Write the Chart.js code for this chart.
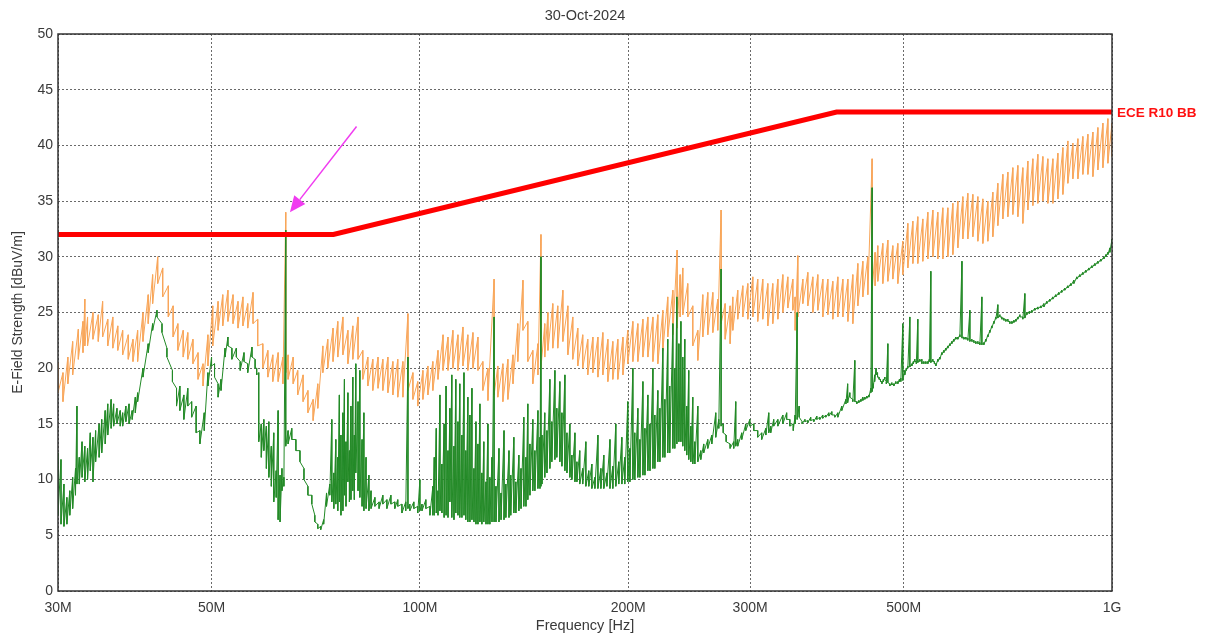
<!DOCTYPE html>
<html>
<head>
<meta charset="utf-8">
<script src="https://cdn.jsdelivr.net/npm/chart.js@4.4.1/dist/chart.umd.min.js"></script>
<style>
  html, body { margin: 0; padding: 0; background: #fff; }
  #wrap { width: 1210px; height: 637px; }
</style>
</head>
<body>
<div id="wrap"><canvas id="emc" width="1210" height="637"></canvas></div>
<script>
// Scan date shown above the plot
const chartTitle = '30-Oct-2024';

// Limit line (MHz, dBuV/m)
const limitName = 'ECE R10 BB';
const limitMHz = [30, 75, 400, 1000];
const limitLevel = [32, 32, 43, 43];

// X axis ticks (MHz) and their labels
const xTickMHz = [30, 50, 100, 200, 300, 500, 1000];
const xTickLabels = ['30M', '50M', '100M', '200M', '300M', '500M', '1G'];

// Arrow pointing at the 64 MHz spike: [MHz, dBuV/m]
const arrowTail = [81, 41.7];
const arrowHead = [64.9, 34.0];

// Peak trace (orange): [MHz, band top, band bottom]
const peakTrace = [
  [30.0,20.5,17.8],[30.5,19.6,17.0],[31.0,21.0,18.6],[31.5,22.4,19.4],[32.1,23.5,20.8],[32.6,24.2,21.4],[32.8,26.2,22.0],
  [33.1,24.6,22.0],[33.7,25.0,22.6],[34.3,24.8,22.4],[34.8,26.0,22.8],[35.4,24.4,22.0],[36.0,24.6,21.8],[36.6,23.8,21.6],
  [37.2,23.4,21.2],[37.9,23.0,20.8],[38.5,22.6,20.6],[39.1,23.4,20.6],[39.8,25.0,22.4],[40.5,26.6,24.0],[41.1,28.4,25.8],
  [41.8,30.0,27.6],[42.5,29.0,26.4],[43.3,27.4,24.6],[44.0,25.6,22.8],[44.7,24.0,21.6],[45.5,23.4,21.0],[46.2,23.2,20.8],
  [47.0,22.6,20.4],[47.8,21.4,19.0],[48.6,20.4,18.4],[49.4,23.0,20.2],[50.2,25.6,22.0],[51.1,26.0,23.4],[51.9,26.6,23.8],
  [52.8,27.0,24.2],[53.7,26.6,24.0],[54.6,26.0,23.6],[55.5,26.4,23.8],[56.4,25.8,23.6],[57.4,26.8,24.0],[58.3,24.4,22.0],
  [59.3,22.2,20.0],[60.3,21.6,19.2],[61.3,21.2,18.8],[62.4,21.4,18.8],[63.4,21.0,18.6],[64.0,34.0,19.6],[64.5,21.2,19.0],
  [65.6,21.0,18.6],[66.6,19.8,17.6],[67.8,19.4,17.0],[68.9,18.0,16.0],[70.1,17.2,15.3],[71.2,18.6,16.4],[72.4,22.0,19.6],
  [73.6,22.6,20.0],[74.9,23.6,20.6],[76.1,24.2,21.0],[77.4,24.6,21.2],[78.7,23.4,20.4],[80.0,23.8,20.8],[81.4,24.6,20.8],
  [82.7,21.6,19.0],[84.1,21.0,18.4],[85.5,20.8,18.0],[87.0,21.0,18.2],[88.4,20.8,18.0],[89.9,21.0,17.8],[91.4,20.6,17.6],
  [92.9,20.8,17.4],[94.5,20.6,17.4],[96.1,24.9,18.0],[97.7,19.6,17.2],[99.3,18.8,16.6],[101.0,19.8,17.2],[102.7,20.2,17.6],
  [104.4,20.6,18.0],[106.2,21.6,19.0],[108.0,23.0,19.8],[109.8,22.8,19.8],[111.6,23.4,20.0],[113.5,23.0,19.8],[115.4,23.7,20.2],
  [117.3,23.0,19.8],[119.3,23.2,20.0],[121.3,22.8,19.8],[123.3,20.6,18.0],[125.4,20.0,17.1],[128.0,28.0,17.6],[129.6,20.2,17.4],
  [131.8,20.4,17.0],[134.0,20.8,17.2],[136.3,21.2,18.6],[138.5,24.0,20.6],[140.9,27.9,23.4],[143.2,24.2,20.6],[145.6,21.6,18.6],
  [148.1,22.2,19.4],[149.6,32.0,20.0],[151.5,24.0,21.0],[153.1,25.0,21.6],[155.6,25.8,21.8],[158.2,25.6,21.8],[160.9,27.0,22.4],
  [163.6,25.6,21.2],[166.3,24.6,20.8],[169.1,23.6,20.2],[171.9,23.0,20.0],[174.8,22.6,19.4],[177.8,22.8,19.6],[180.8,22.8,19.2],
  [183.8,23.2,19.4],[186.9,22.6,18.8],[190.0,22.4,19.0],[193.2,22.6,19.0],[196.5,22.8,19.4],[199.7,23.4,20.4],[203.1,24.2,20.6],
  [206.5,24.0,20.6],[210.0,24.4,21.0],[213.5,24.6,21.0],[217.1,24.6,20.6],[220.7,24.8,20.4],[224.4,25.2,21.6],[228.1,26.4,22.8],
  [232.0,27.0,23.0],[235.3,30.6,23.6],[237.7,28.4,24.6],[239.8,29.0,24.8],[243.8,27.6,24.6],[247.9,25.6,22.0],[252.1,23.4,20.7],
  [256.3,26.6,22.8],[260.6,26.8,23.0],[265.0,26.8,23.2],[269.4,26.2,23.4],[272.4,34.2,24.0],[276.1,25.8,22.6],[280.7,25.6,22.2],
  [283.2,26.4,23.4],[287.9,27.0,24.4],[292.8,27.4,24.6],[297.7,27.6,24.4],[302.7,28.2,24.6],[307.7,28.0,24.2],[312.9,28.0,24.4],
  [318.2,27.6,23.8],[323.5,27.6,24.0],[329.0,28.0,24.4],[334.5,28.4,25.0],[340.1,28.2,25.4],[345.8,28.0,25.2],[348.5,26.4,23.4],
  [351.6,30.1,24.6],[357.5,28.0,25.8],[363.5,28.6,25.6],[369.6,28.2,25.0],[375.8,28.4,25.2],[382.1,28.0,24.6],[388.5,28.0,24.8],
  [395.0,27.8,24.4],[401.7,28.2,24.6],[408.4,28.0,24.6],[415.3,28.0,24.2],[422.2,28.4,24.0],[429.3,29.4,25.6],[436.5,29.6,26.4],
  [443.8,30.0,26.6],[450.2,38.8,27.0],[454.7,30.4,27.4],[458.8,31.0,27.8],[466.5,31.2,27.6],[474.4,31.5,27.8],[482.3,31.0,28.0],
  [490.4,31.2,27.6],[498.6,31.4,28.4],[507.0,33.0,29.0],[515.5,33.2,29.4],[524.1,33.6,29.4],[532.9,33.4,29.6],[541.9,34.0,29.8],
  [551.0,34.2,30.0],[560.2,34.0,29.8],[569.6,34.4,29.8],[579.2,34.4,30.0],[588.9,34.8,30.2],[598.8,35.0,30.8],[608.8,35.4,31.6],
  [619.0,35.7,31.6],[629.4,35.6,31.8],[640.0,35.4,31.4],[650.7,35.2,31.2],[661.6,35.0,31.4],[672.7,35.8,31.8],[684.0,36.6,32.8],
  [695.5,37.4,33.4],[707.2,37.6,33.6],[719.0,38.0,33.8],[731.1,38.2,33.6],[743.3,38.0,33.0],[755.8,38.6,34.2],[768.5,38.8,34.6],
  [781.4,39.2,34.8],[794.5,39.0,35.0],[807.8,38.8,34.8],[821.4,38.8,34.8],[835.2,39.3,35.2],[849.2,39.8,35.6],[863.4,40.4,36.6],
  [877.9,40.2,37.0],[892.7,40.6,37.0],[907.6,40.8,37.4],[922.9,41.0,37.4],[938.4,41.2,37.2],[954.1,41.6,37.8],[970.1,42.0,38.0],
  [986.4,42.4,38.4],[1000,42.0,39.0]
];

// Average trace (green): [MHz, top, bottom]
const avgTrace = [
  [30.0,12.4,6.8],[30.3,11.8,6.0],[30.6,9.6,5.8],[30.9,8.4,6.0],[31.2,9.0,6.8],[31.5,10.2,7.4],[31.8,11.0,8.6],[31.95,16.6,9.6],
  [32.2,12.0,9.6],[32.5,13.4,10.2],[32.8,13.0,9.8],[33.1,12.8,10.0],[33.4,14.2,10.8],[33.7,13.8,9.8],[34.0,14.4,11.6],[34.4,15.0,12.0],
  [34.7,15.4,12.4],[35.1,16.2,13.2],[35.4,16.8,14.0],[35.8,17.2,14.6],[36.1,16.8,14.8],[36.5,16.4,15.0],[36.9,16.2,14.8],[37.2,16.0,14.8],
  [37.6,16.6,15.2],[38.0,16.8,15.0],[38.4,16.2,15.4],[38.8,17.4,16.0],[39.1,17.8,17.0],[39.8,20.0,19.2],[40.5,22.2,21.4],[41.1,24.0,23.4],
  [41.7,25.2,24.6],[42.4,24.0,23.2],[43.1,21.8,21.0],[43.9,19.8,18.8],[44.5,18.2,16.6],[45.0,18.4,16.2],[45.6,17.6,15.4],[46.2,18.2,16.6],
  [46.8,17.0,15.6],[47.5,16.6,14.2],[48.1,14.4,13.2],[48.8,16.0,14.4],[49.4,19.6,18.4],[50.0,21.0,20.2],[50.5,20.4,19.2],[51.1,18.6,17.4],
  [51.6,19.0,18.0],[52.3,21.8,21.0],[52.8,22.8,22.0],[53.5,21.8,20.8],[54.3,21.8,21.0],[55.0,20.6,19.8],[55.7,21.4,20.6],[56.4,20.4,19.6],
  [57.2,21.9,21.0],[57.8,20.8,20.0],[58.1,20.0,19.4],[58.5,19.6,13.4],[59.0,15.0,12.0],[59.5,15.4,12.6],[60.0,14.8,11.0],[60.5,15.2,10.2],
  [61.0,13.0,9.4],[61.5,14.2,8.0],[62.0,10.8,8.4],[62.4,16.2,6.4],[62.8,10.4,6.2],[63.2,11.0,9.0],[63.6,10.2,9.4],[64.0,32.4,13.0],
  [64.5,14.4,13.2],[65.3,14.6,13.6],[66.2,13.6,12.6],[67.1,12.6,11.6],[68.0,11.0,10.0],[68.9,9.4,8.6],[69.8,8.6,7.8],[70.5,6.8,6.2],
  [71.2,6.0,5.6],[71.9,5.8,5.5],[72.6,6.4,6.0],[73.3,8.8,7.6],[74.1,9.6,8.6],[74.6,15.4,8.0],[75.1,10.6,7.4],[75.6,13.6,7.8],
  [76.1,12.0,7.2],[76.5,17.6,8.0],[76.9,14.0,6.8],[77.4,16.0,7.2],[77.8,19.0,8.6],[78.2,13.4,7.6],[78.7,17.8,9.8],[79.1,12.6,8.0],
  [79.5,16.6,8.2],[80.0,19.2,9.0],[80.4,14.0,8.2],[80.8,20.4,10.6],[81.4,17.0,9.0],[81.9,19.8,8.4],[82.5,13.6,7.6],[83.0,16.0,7.2],
  [83.6,12.0,7.4],[84.4,10.4,7.2],[85.0,9.0,7.4],[86.1,8.4,7.6],[87.3,8.0,7.4],[88.4,8.6,7.8],[89.6,8.2,7.4],[90.8,8.6,7.8],
  [92.0,8.0,7.4],[92.9,8.2,7.6],[94.2,7.8,7.0],[95.4,8.0,7.2],[96.1,21.0,7.4],[96.7,7.8,7.2],[98.0,8.0,7.4],[99.3,7.6,7.0],
  [100.0,10.0,7.2],[100.7,7.8,7.2],[102.0,8.2,7.4],[103.4,7.6,6.8],[104.4,9.4,6.8],[104.9,12.0,6.8],[105.6,14.6,7.0],[106.2,9.0,6.8],
  [106.9,17.6,7.2],[107.6,11.4,7.0],[108.4,15.0,6.6],[109.1,18.4,6.8],[109.8,12.6,6.6],[110.5,16.4,8.0],[111.2,19.4,6.6],[112.0,13.0,6.4],
  [112.7,19.0,7.0],[113.5,15.2,6.8],[114.2,18.6,6.6],[115.0,14.0,6.6],[115.8,19.6,6.8],[116.5,12.6,6.4],[117.3,17.4,6.2],[118.1,15.8,6.2],
  [118.9,18.2,6.4],[119.7,11.0,6.2],[120.5,15.2,6.0],[121.3,13.2,6.0],[122.1,16.8,6.2],[122.9,10.6,6.0],[123.7,13.4,6.2],[124.6,9.8,6.0],
  [125.4,15.0,6.0],[126.2,10.2,6.0],[127.1,12.0,6.2],[128.0,24.6,6.2],[128.8,9.4,6.2],[130.1,12.8,6.2],[131.0,8.8,6.4],[132.3,14.4,6.4],
  [133.1,9.6,6.6],[134.5,12.6,6.6],[135.3,10.4,6.8],[136.7,13.8,7.0],[137.6,9.8,7.0],[139.0,12.2,7.2],[140.0,11.0,7.4],[141.3,15.6,7.6],
  [142.3,12.0,7.6],[143.2,16.8,8.2],[144.2,13.2,8.6],[145.6,15.4,9.0],[146.6,12.6,9.0],[148.1,16.2,9.2],[149.1,13.8,9.2],[149.6,30.0,9.4],
  [150.1,14.0,9.6],[151.5,16.0,10.2],[152.6,14.4,10.6],[154.1,19.0,11.0],[155.1,15.2,11.6],[156.7,19.8,11.8],[157.7,16.4,12.0],[159.3,18.8,11.6],
  [160.4,16.0,11.2],[162.0,19.4,10.8],[163.1,14.2,10.6],[164.7,15.0,10.2],[165.8,12.2,10.0],[167.5,14.2,9.8],[168.6,11.6,9.8],[170.2,12.6,9.6],
  [171.9,11.0,9.6],[173.7,13.4,9.4],[175.4,10.8,9.4],[177.2,11.4,9.2],[179.0,10.2,9.2],[180.8,14.0,9.2],[182.6,11.0,9.2],[184.4,12.2,9.2],
  [186.3,10.6,9.4],[188.2,13.6,9.2],[190.0,11.2,9.2],[191.9,15.0,9.4],[193.8,11.6,9.6],[195.8,13.8,9.6],[197.7,12.0,9.6],[199.7,17.0,9.8],
  [201.1,12.8,9.8],[203.1,20.0,10.0],[204.4,14.2,10.0],[206.5,16.4,10.2],[207.9,13.6,10.2],[210.0,18.8,10.4],[211.4,14.6,10.4],[213.5,17.6,10.8],
  [215.0,15.0,10.8],[217.1,20.0,11.0],[218.5,15.8,11.0],[220.7,18.0,11.6],[222.2,16.4,11.6],[224.4,21.8,12.0],[225.9,17.2,12.0],[228.1,22.6,12.4],
  [229.6,18.4,12.4],[232.0,24.0,12.8],[233.5,20.0,12.8],[235.1,26.4,13.2],[236.7,22.2,13.4],[238.3,24.2,13.4],[239.8,21.0,13.0],[241.4,22.6,12.6],
  [243.0,16.6,12.2],[244.6,19.8,11.8],[246.3,14.8,11.6],[247.9,17.4,11.4],[249.6,13.4,11.4],[252.1,16.6,11.6],[254.6,12.6,11.8],[257.1,13.2,12.4],
  [260.6,13.6,12.8],[264.1,14.0,13.2],[267.6,16.0,13.8],[270.3,15.4,14.6],[272.4,28.9,14.8],[274.3,15.0,14.2],[277.0,14.0,13.4],[280.7,13.2,12.8],
  [284.1,13.4,12.8],[286.0,17.0,13.0],[287.9,13.6,13.0],[291.8,14.2,13.6],[295.7,15.0,14.4],[299.7,15.4,14.8],[303.7,15.0,14.4],[307.7,14.4,13.8],
  [311.8,14.2,13.6],[316.1,14.6,14.0],[319.2,16.0,14.2],[321.3,14.8,14.2],[324.5,15.4,14.8],[329.0,15.4,14.8],[334.5,15.8,15.0],[338.8,16.0,15.4],
  [342.4,15.4,14.8],[346.3,15.0,14.4],[348.5,15.8,15.0],[350.8,25.0,15.4],[353.2,16.6,15.6],
  [356.7,15.2,15.0],[360.0,15.4,15.2],[363.5,15.3,15.1],[367.0,15.6,15.3],[370.8,15.4,15.2],[374.5,15.7,15.4],[378.3,15.6,15.4],[382.0,15.8,15.5],
  [385.9,15.8,15.6],[389.8,16.0,15.7],[393.7,16.1,15.8],[397.7,15.8,15.6],[401.7,16.0,15.6],[407.0,16.6,16.2],[412.6,17.2,16.8],[415.0,18.6,16.9],
  [418.0,17.8,17.4],[422.2,17.2,17.0],[425.0,20.7,17.0],[427.8,17.0,16.8],[430.7,17.1,16.9],[433.6,17.2,17.0],[436.5,17.4,17.1],[439.4,17.4,17.2],
  [442.4,17.5,17.3],[445.4,17.6,17.4],[448.3,18.2,17.8],[450.2,36.2,17.9],[451.7,18.6,18.2],[454.0,19.4,18.8],[456.2,20.0,19.4],[458.4,19.6,19.2],
  [460.7,19.2,19.0],[462.9,19.0,18.8],[465.1,18.8,18.6],[467.4,19.0,18.8],[469.7,19.2,19.0],[472.0,18.8,18.6],[474.4,22.2,18.7],[477.5,18.6,18.4],
  [480.7,18.7,18.5],[483.9,18.6,18.4],[487.1,18.8,18.6],[490.4,18.8,18.6],[493.0,19.0,18.8],[495.3,19.1,18.8],[498.6,24.0,18.9],[501.9,19.8,19.4],
  [504.5,20.0,19.8],[507.0,20.2,20.0],[510.4,24.6,20.1],[513.8,20.4,20.2],[516.4,20.6,20.4],[518.9,20.8,20.6],[521.5,20.6,20.4],[524.1,24.4,20.5],
  [527.6,20.8,20.6],[531.2,20.8,20.4],[534.7,20.6,20.4],[538.3,20.6,20.4],[541.9,20.6,20.4],[544.6,20.8,20.6],[547.3,28.7,20.5],[551.0,20.8,20.6],
  [553.8,20.6,20.4],[556.6,20.4,20.2],[560.3,20.8,20.6],[564.0,21.0,20.8],[567.7,21.4,21.2],[571.5,21.6,21.4],[575.3,21.8,21.6],[579.2,22.0,21.8],
  [583.0,22.2,22.0],[586.9,22.4,22.2],[590.8,22.6,22.4],[594.8,22.8,22.6],[598.8,22.8,22.6],[602.8,23.0,22.8],[607.0,29.6,22.7],[611.0,22.8,22.6],
  [615.0,22.8,22.6],[619.0,22.7,22.5],[623.2,25.2,22.4],[627.3,22.6,22.4],[631.5,22.5,22.3],[635.7,22.4,22.2],[640.0,22.4,22.2],[644.3,22.3,22.1],
  [648.6,26.4,22.1],[652.9,22.3,22.1],[657.2,22.6,22.4],[661.6,23.0,22.8],[666.0,23.4,23.2],[670.5,23.8,23.6],[675.0,24.2,24.0],[679.5,24.6,24.4],
  [684.0,25.7,24.5],[688.6,24.8,24.6],[693.2,24.6,24.4],[697.8,24.5,24.3],[702.5,24.4,24.2],[707.2,24.4,24.2],[711.9,24.2,24.0],[716.7,24.2,24.0],
  [721.5,24.3,24.1],[726.3,24.4,24.2],[731.1,24.6,24.4],[736.0,24.8,24.6],[743.3,24.6,24.4],[748.3,26.7,24.5],[753.3,25.0,24.8],[759.6,25.1,24.9],
  [766.0,25.2,25.0],[773.7,25.4,25.2],[781.4,25.5,25.3],[789.3,25.6,25.4],[797.2,25.8,25.5],[805.1,26.0,25.8],[813.1,26.2,26.0],[821.3,26.4,26.2],
  [829.5,26.6,26.4],[837.7,26.8,26.6],[846.0,27.0,26.8],[854.7,27.2,27.0],[863.4,27.4,27.2],[872.1,27.6,27.4],[880.8,27.9,27.6],[889.7,28.2,28.0],
  [898.6,28.4,28.2],[907.6,28.6,28.4],[916.7,28.8,28.6],[926.0,29.0,28.8],[935.3,29.2,29.0],[944.7,29.4,29.2],[954.1,29.6,29.4],[963.7,29.8,29.6],
  [973.3,30.0,29.8],[980.0,30.2,30.0],[986.4,30.4,30.2],[993.0,30.8,30.4],[1000,31.6,30.8]
];

// each reading becomes its top and bottom point (a vertical stroke), like an analyser min/max bin
const toPoints = (rows) => rows.flatMap(r => [{ x: r[0], y: r[1] }, { x: r[0], y: r[2] }]);

const textColor = '#3a3a3a';
const fontFamily = "'Liberation Sans', Arial, sans-serif";

// Title, limit label, arrow and plot frame
const decorations = {
  id: 'decorations',
  afterDatasetsDraw(chart) {
    const { ctx, chartArea, scales } = chart;
    const xs = scales.x, ys = scales.y;
    ctx.save();

    // frame around the plot
    ctx.strokeStyle = '#333';
    ctx.lineWidth = 1.5;
    ctx.strokeRect(chartArea.left, chartArea.top, chartArea.right - chartArea.left, chartArea.bottom - chartArea.top);

    // date title
    ctx.fillStyle = textColor;
    ctx.font = '14.5px ' + fontFamily;
    ctx.textAlign = 'center';
    ctx.textBaseline = 'middle';
    ctx.fillText(chartTitle, (chartArea.left + chartArea.right) / 2, chartArea.top - 18);

    // limit name at the right end of the limit line
    ctx.fillStyle = '#ff1010';
    ctx.font = 'bold 13.5px ' + fontFamily;
    ctx.textAlign = 'left';
    ctx.fillText(limitName, chartArea.right + 5, ys.getPixelForValue(limitLevel[limitLevel.length - 1]) + 1);

    // magenta arrow
    const x1 = xs.getPixelForValue(arrowTail[0]), y1 = ys.getPixelForValue(arrowTail[1]);
    const x2 = xs.getPixelForValue(arrowHead[0]), y2 = ys.getPixelForValue(arrowHead[1]);
    const ang = Math.atan2(y2 - y1, x2 - x1);
    const headLen = 16, headHalf = 7;
    const bx = x2 - headLen * Math.cos(ang), by = y2 - headLen * Math.sin(ang);
    ctx.strokeStyle = '#f03cf0';
    ctx.fillStyle = '#f03cf0';
    ctx.lineWidth = 1.5;
    ctx.beginPath();
    ctx.moveTo(x1, y1);
    ctx.lineTo(bx, by);
    ctx.stroke();
    ctx.beginPath();
    ctx.moveTo(x2, y2);
    ctx.lineTo(bx + headHalf * Math.sin(ang), by - headHalf * Math.cos(ang));
    ctx.lineTo(bx - headHalf * Math.sin(ang), by + headHalf * Math.cos(ang));
    ctx.closePath();
    ctx.fill();

    ctx.restore();
  }
};

new Chart(document.getElementById('emc'), {
  type: 'line',
  data: {
    datasets: [
      {
        label: limitName,
        data: limitMHz.map((f, i) => ({ x: f, y: limitLevel[i] })),
        borderColor: '#ff0000',
        borderWidth: 5,
        order: 0
      },
      {
        label: 'Average',
        data: toPoints(avgTrace),
        borderColor: '#238a27',
        borderWidth: 1,
        order: 1
      },
      {
        label: 'Peak',
        data: toPoints(peakTrace),
        borderColor: '#f8a65a',
        borderWidth: 1,
        order: 2
      }
    ]
  },
  options: {
    responsive: false,
    animation: false,
    devicePixelRatio: 1,
    layout: { padding: { top: 34, right: 98, bottom: 0, left: 0 } },
    elements: { point: { radius: 0 }, line: { tension: 0 } },
    plugins: {
      legend: { display: false },
      tooltip: { enabled: false }
    },
    scales: {
      x: {
        type: 'logarithmic',
        min: 30,
        max: 1000,
        afterBuildTicks: (s) => { s.ticks = xTickMHz.map(v => ({ value: v })); },
        afterFit: (s) => { s.height = 46; },
        ticks: {
          autoSkip: false,
          maxRotation: 0,
          padding: 9,
          color: textColor,
          font: { family: fontFamily, size: 14 },
          callback: (v) => xTickLabels[xTickMHz.indexOf(v)]
        },
        grid: { color: '#6a6a6a', lineWidth: 1, drawTicks: false },
        border: { display: false, dash: [2, 2] },
        title: {
          display: true,
          text: 'Frequency [Hz]',
          color: textColor,
          font: { family: fontFamily, size: 14.5 },
          padding: { top: 0, bottom: 2 }
        }
      },
      y: {
        min: 0,
        max: 50,
        afterFit: (s) => { s.width = 58; },
        ticks: {
          stepSize: 5,
          padding: 5,
          color: textColor,
          font: { family: fontFamily, size: 14 }
        },
        grid: { color: '#6a6a6a', lineWidth: 1, drawTicks: false },
        border: { display: false, dash: [2, 2] },
        title: {
          display: true,
          text: 'E-Field Strength [dBuV/m]',
          color: textColor,
          font: { family: fontFamily, size: 14 },
          padding: { top: 10, bottom: 0 }
        }
      }
    }
  },
  plugins: [decorations]
});
</script>
</body>
</html>
